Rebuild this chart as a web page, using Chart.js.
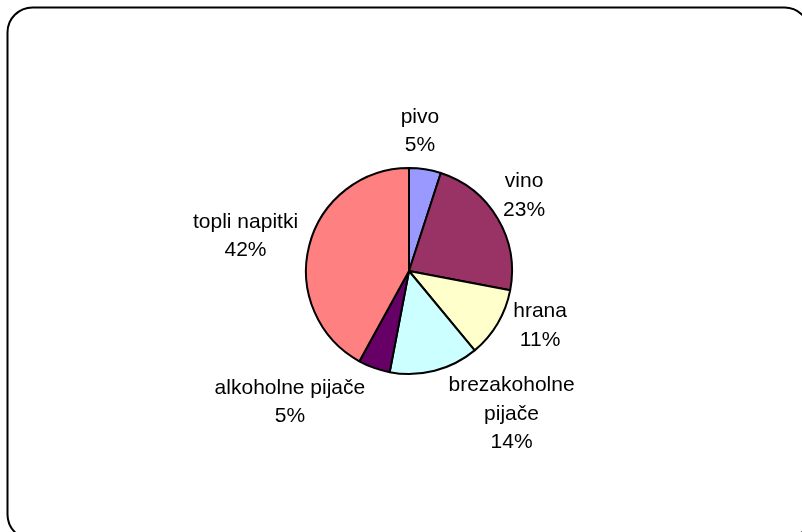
<!DOCTYPE html>
<html>
<head>
<meta charset="utf-8">
<script src="https://cdn.jsdelivr.net/npm/chart.js@4"></script>
<style>
  html, body { margin: 0; padding: 0; background: #fff; }
  #wrap { width: 802px; height: 532px; position: relative; }
</style>
</head>
<body>
<div id="wrap"><canvas id="myChart" width="802" height="532"></canvas></div>
<script>
/** Podatki */
var kategorije = ['pivo', 'vino', 'hrana', 'brezakoholne pijače', 'alkoholne pijače', 'topli napitki'];
var deleži = [5, 23, 11, 14, 5, 42];
// labels wrapped like in the original
var vrstice = [['pivo'], ['vino'], ['hrana'], ['brezakoholne', 'pijače'], ['alkoholne pijače'], ['topli napitki']];

var barve = ['#9999FF', '#993366', '#FFFFCC', '#CCFFFF', '#660066', '#FF8080'];
// small manual shifts for the outside labels (px)
var zamiki = [[-9, -5], [4, -6], [15, -15], [60, -3], [-57, 3], [-8, -1]];

/** Okvir */
var okvir = {
  id: 'okvir',
  beforeDraw: function(chart) {
    var c = chart.ctx;
    c.save();
    c.fillStyle = '#fff';
    c.fillRect(0, 0, chart.width, chart.height);
    c.beginPath();
    c.roundRect(7.5, 7.5, 802, 532, 25);
    c.lineWidth = 2;
    c.strokeStyle = '#000';
    c.stroke();
    c.restore();
  }
};

/** Napisi */
var napisi = {
  id: 'napisi',
  afterDatasetsDraw: function(chart) {
    var c = chart.ctx;
    var meta = chart.getDatasetMeta(0);
    var vsota = deleži.reduce(function(a, b) { return a + b; }, 0);
    c.save();
    c.font = '21px "Liberation Sans", Arial, sans-serif';
    c.fillStyle = '#000';
    c.textAlign = 'center';
    c.textBaseline = 'middle';
    var lh = 28.5;
    meta.data.forEach(function(arc, i) {
      var p = arc.getProps(['x', 'y', 'startAngle', 'endAngle', 'outerRadius'], true);
      var kot = (p.startAngle + p.endAngle) / 2;
      var dx = Math.cos(kot), dy = Math.sin(kot);
      var proc = Math.round(deleži[i] / vsota * 100) + '%';
      var lines = vrstice[i].concat([proc]);
      var w = 0;
      lines.forEach(function(t) { w = Math.max(w, c.measureText(t).width); });
      var h = lines.length * lh;
      var ax = p.x + dx * (p.outerRadius + 5);
      var ay = p.y + dy * (p.outerRadius + 5);
      var cx = ax + dx * w / 2 + zamiki[i][0];
      var cy = ay + dy * h / 2 + zamiki[i][1];
      lines.forEach(function(t, j) {
        c.fillText(t, cx, cy - h / 2 + lh / 2 + j * lh);
      });
    });
    c.restore();
  }
};

var ctx = document.getElementById('myChart').getContext('2d');
var myChart = new Chart(ctx, {
  type: 'pie',
  data: {
    labels: kategorije,
    datasets: [{
      data: deleži,
      backgroundColor: barve,
      borderColor: '#000',
      borderWidth: 2
    }]
  },
  options: {
    responsive: false,
    animation: false,
    layout: { padding: { left: 305, right: 289, top: 167, bottom: 157 } },
    plugins: {
      legend: { display: false },
      tooltip: { enabled: false }
    }
  },
  plugins: [okvir, napisi]
});
</script>
</body>
</html>
